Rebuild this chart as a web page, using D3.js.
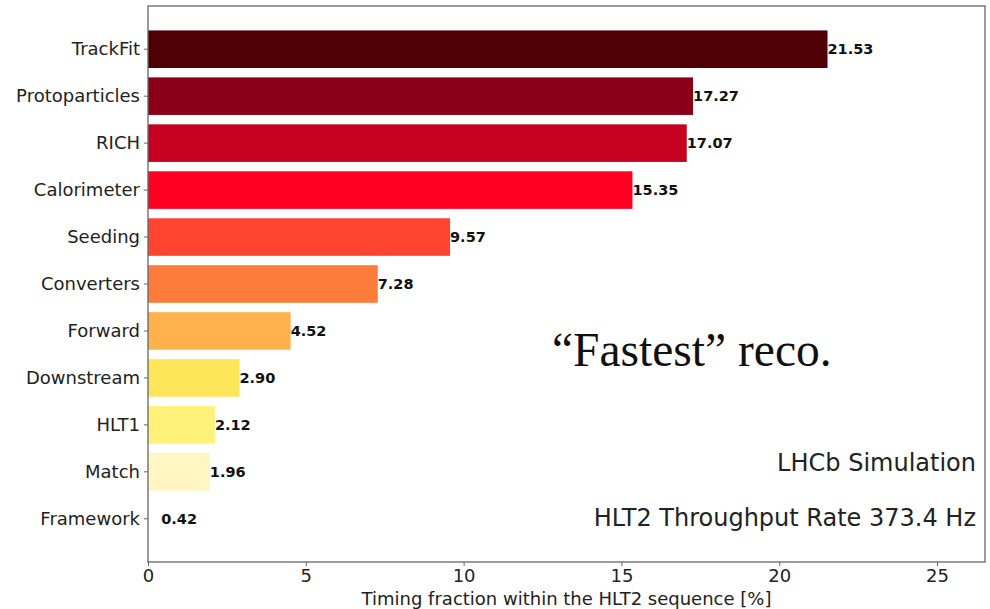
<!DOCTYPE html>
<html><head><meta charset="utf-8">
<script src="https://cdn.jsdelivr.net/npm/d3@7"></script>
<style>body{margin:0;background:#fff;}svg{display:block;}</style>
</head><body>
<svg id="c" width="990" height="609"></svg>
<script>
const categories = ["TrackFit","Protoparticles","RICH","Calorimeter","Seeding","Converters","Forward","Downstream","HLT1","Match","Framework"];
const values = [21.53,17.27,17.07,15.35,9.57,7.28,4.52,2.90,2.12,1.96,0.42];
const colors = ["#4e0004","#8c0017","#c6001f","#ff0022","#ff4430","#fd7b3b","#feb14d","#fee65b","#fff17a","#fff6c3","#ffffff"];
const xTicks = [0,5,10,15,20,25];

const svg = d3.select("#c");
const L = 148, R = 985, T = 6, B = 562;
const x = d3.scaleLinear().domain([0, 26.52]).range([L, R]);
const y = d3.scaleBand().domain(categories).range([T, B]).paddingInner(0.2).paddingOuter(0.52);

svg.append("g").selectAll("rect").data(categories).join("rect")
  .attr("x", x(0)).attr("y", d => y(d))
  .attr("width", (d,i) => x(values[i]) - x(0))
  .attr("height", y.bandwidth())
  .attr("fill", (d,i) => colors[i]);

svg.append("g").selectAll("text").data(categories).join("text")
  .attr("x", (d,i) => x(values[i]))
  .attr("y", d => y(d) + y.bandwidth()/2)
  .attr("dy", "0.36em")
  .attr("font-family", "DejaVu Sans").attr("font-weight", "bold").attr("font-size", 14.5)
  .attr("fill", "#111")
  .text((d,i) => values[i].toFixed(2));

// frame
svg.append("rect").attr("x", L).attr("y", T).attr("width", R-L).attr("height", B-T)
  .attr("fill", "none").attr("stroke", "#666").attr("stroke-width", 1.3);

const xa = svg.append("g").attr("transform", `translate(0,${B})`)
  .call(d3.axisBottom(x).tickValues(xTicks).tickFormat(d3.format("d")).tickSize(4).tickPadding(3));
xa.select(".domain").remove();
xa.selectAll("line").attr("stroke", "#666");
xa.selectAll("text").attr("font-family", "DejaVu Sans").attr("font-size", 18).attr("fill", "#222");

const ya = svg.append("g").attr("transform", `translate(${L},0)`)
  .call(d3.axisLeft(y).tickSize(4).tickPadding(4));
ya.select(".domain").remove();
ya.selectAll("line").attr("stroke", "#666");
ya.selectAll("text").attr("font-family", "DejaVu Sans").attr("font-size", 18).attr("fill", "#222");

svg.append("text").attr("x", (L+R)/2).attr("y", 605).attr("text-anchor", "middle")
  .attr("font-family", "DejaVu Sans").attr("font-size", 18).attr("fill", "#222")
  .text("Timing fraction within the HLT2 sequence [%]");

svg.append("text").attr("x", 552).attr("y", 366)
  .attr("font-family", "Liberation Serif").attr("font-size", 47.5).attr("fill", "#111")
  .text("\u201CFastest\u201D reco.");

svg.append("text").attr("x", 976).attr("y", 471).attr("text-anchor", "end")
  .attr("font-family", "DejaVu Sans").attr("font-size", 24).attr("fill", "#222")
  .text("LHCb Simulation");
svg.append("text").attr("x", 976).attr("y", 526).attr("text-anchor", "end")
  .attr("font-family", "DejaVu Sans").attr("font-size", 24).attr("fill", "#222")
  .text("HLT2 Throughput Rate 373.4 Hz");
</script>
</body></html>
